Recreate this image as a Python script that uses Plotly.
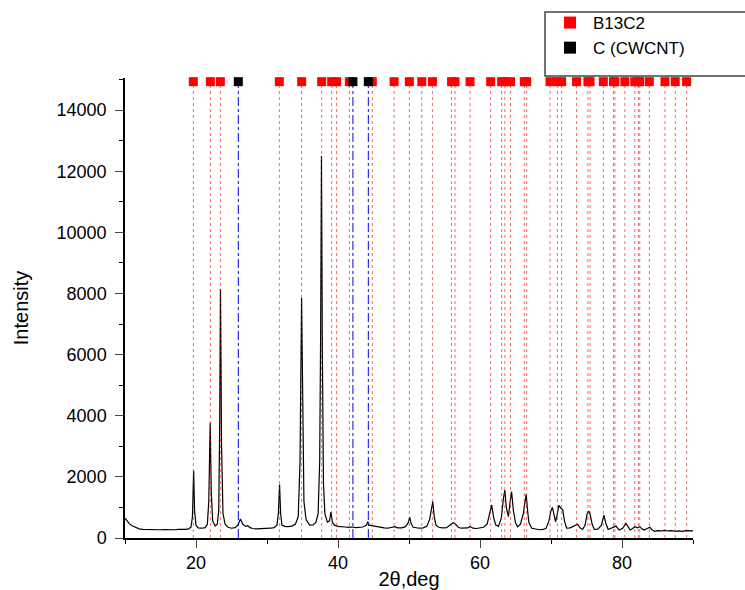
import plotly.graph_objects as go

# XRD pattern (2theta, intensity)
two_theta = [10.0, 10.3, 10.6, 11.0, 11.5, 12.0, 12.5, 13.0, 13.5, 14.0, 14.5, 15.0, 15.5, 16.0, 16.5,
             17.0, 17.5, 18.0, 18.5, 19.0, 19.3, 19.5, 19.67, 19.8, 20.0, 20.3, 20.8, 21.3, 21.6, 21.8,
             22.0, 22.15, 22.35, 22.7, 23.0, 23.2, 23.33, 23.45, 23.6, 23.8, 24.1, 24.5, 25.0, 25.5,
             25.9, 26.25, 26.6, 27.0, 27.3, 27.6, 28.0, 28.5, 29.0, 29.5, 30.0, 30.5, 31.0, 31.4, 31.6,
             31.77, 31.92, 32.1, 32.5, 33.0, 33.5, 34.0, 34.4, 34.65, 34.87, 35.02, 35.2, 35.5, 36.0,
             36.5, 36.9, 37.2, 37.42, 37.55, 37.67, 37.8, 37.95, 38.15, 38.5, 38.8, 39.0, 39.2, 39.5,
             40.0, 40.5, 41.0, 41.5, 42.0, 42.5, 43.0, 43.5, 44.0, 44.2, 44.4, 44.8, 45.2, 45.6, 46.0,
             46.5, 47.0, 47.5, 48.0, 48.4, 49.0, 49.5, 49.9, 50.1, 50.3, 50.6, 51.0, 51.5, 52.0, 52.5,
             52.9, 53.2, 53.35, 53.55, 53.8, 54.2, 54.7, 55.3, 55.8, 56.2, 56.5, 56.9, 57.3, 57.8, 58.3,
             58.6, 59.0, 59.5, 60.0, 60.5, 61.0, 61.4, 61.65, 61.9, 62.2, 62.6, 63.0, 63.3, 63.5, 63.7,
             64.0, 64.25, 64.45, 64.7, 65.0, 65.3, 65.7, 66.1, 66.3, 66.5, 66.7, 66.9, 67.3, 67.8, 68.4,
             68.9, 69.3, 69.7, 70.0, 70.2, 70.4, 70.65, 70.9, 71.1, 71.4, 71.65, 71.9, 72.2, 72.7, 73.2,
             73.75, 74.1, 74.45, 74.8, 75.1, 75.3, 75.5, 75.8, 76.1, 76.6, 77.1, 77.45, 77.7, 78.05,
             78.6, 79.15, 79.6, 80.1, 80.55, 80.9, 81.15, 81.5, 81.8, 82.2, 82.5, 82.8, 83.1, 83.5,
             83.9, 84.2, 84.6, 85.0, 85.5, 86.0, 86.5, 87.0, 87.5, 88.0, 88.5, 89.0, 89.5, 90.0]
intensity = [650, 560, 470, 400, 340, 300, 285, 280, 270, 275, 265, 270, 275, 268, 272,
             270, 280, 275, 285, 300, 360, 700, 2200, 900, 420, 330, 320, 340, 450, 1200,
             3770, 1500, 550, 400, 450, 900, 3500, 8150, 3000, 800, 450, 350, 320, 340,
             420, 620, 450, 380, 400, 340, 310, 300, 305, 300, 310, 320, 340, 420, 800,
             1750, 800, 420, 380, 370, 390, 450, 700, 2500, 7850, 3500, 1200, 600, 420,
             430, 520, 800, 2500, 6500, 12500, 6000, 1800, 800, 520, 560, 850, 520, 420,
             380, 360, 360, 350, 360, 340, 350, 360, 420, 530, 420, 400, 370, 350, 330,
             330, 320, 340, 370, 330, 330, 370, 500, 680, 470, 350, 330, 320, 330, 380,
             600, 1100, 1190, 700, 420, 350, 330, 340, 420, 500, 470, 360, 320, 330, 330,
             380, 320, 310, 330, 350, 450, 800, 1080, 700, 430, 380, 650, 1300, 1570, 1000,
             700, 1200, 1515, 900, 500, 370, 450, 800, 1190, 1430, 900, 500, 320, 290, 270,
             280, 320, 550, 900, 1000, 800, 530, 800, 1070, 970, 920, 550, 320, 330, 380,
             450, 330, 280, 420, 800, 880, 790, 450, 280, 290, 420, 750, 500, 280,
             330, 390, 260, 320, 480, 330, 260, 310, 370, 330, 370, 300, 260, 300,
             350, 280, 220, 240, 230, 250, 230, 240, 220, 230, 220, 240, 230, 235]

# Reference line positions (2theta)
b13c2_positions = [19.62, 22.02, 23.43, 31.74, 34.88, 37.7, 39.11, 39.8, 41.6, 44.83, 47.9, 50.05,
                   51.8, 53.3, 56.0, 56.48, 58.6, 61.5, 63.05, 63.5, 64.3, 66.24, 66.57, 69.86,
                   70.9, 71.5, 73.6, 75.2, 75.5, 77.37, 78.8, 79.0, 80.4, 81.8, 82.3, 82.5, 83.85,
                   86.05, 87.5, 89.1]
cwcnt_positions = [25.96, 42.1, 44.27]

series_names = ["B13C2", "C (CWCNT)"]
y_ticks = [0, 2000, 4000, 6000, 8000, 10000, 12000, 14000]
x_ticks = [20, 40, 60, 80]

MARK_Y = 14930
LINE_TOP = 14800
FONT = "Arial, Liberation Sans, sans-serif"


def vlines(pos):
    xs, ys = [], []
    for p in pos:
        xs += [p, p, None]
        ys += [0, LINE_TOP, None]
    return xs, ys


fig = go.Figure()
fig.add_trace(go.Scatter(x=two_theta, y=intensity, mode="lines",
                         line=dict(color="black", width=1.2), showlegend=False,
                         hoverinfo="skip"))
rx, ry = vlines(b13c2_positions)
fig.add_trace(go.Scatter(x=rx, y=ry, mode="lines",
                         line=dict(color="rgba(255,0,0,0.6)", width=1, dash="dot"),
                         showlegend=False, hoverinfo="skip"))
bx, by = vlines(cwcnt_positions)
fig.add_trace(go.Scatter(x=bx, y=by, mode="lines", line=dict(color="#0000ff", width=1, dash="dashdot"),
                         showlegend=False, hoverinfo="skip"))
fig.add_trace(go.Scatter(x=b13c2_positions, y=[MARK_Y] * len(b13c2_positions), mode="markers",
                         marker=dict(symbol="square", size=9, color="#ff0000", line=dict(width=0)),
                         name=series_names[0], cliponaxis=False))
fig.add_trace(go.Scatter(x=cwcnt_positions, y=[MARK_Y] * len(cwcnt_positions), mode="markers",
                         marker=dict(symbol="square", size=9, color="black", line=dict(width=0)),
                         name=series_names[1], cliponaxis=False))

L, R, T, B = 125, 52, 78, 52
W, H = 745, 590
pw, ph = W - L - R, H - T - B

fig.add_shape(type="rect", xref="paper", yref="paper",
              x0=(545 - L) / pw, x1=(760 - L) / pw,
              y0=(H - B - 76) / ph, y1=(H - B - 12) / ph,
              line=dict(color="#444444", width=1.5), fillcolor="white", layer="above")

fig.update_layout(
    width=W, height=H,
    margin=dict(l=L, r=R, t=T, b=B, autoexpand=False),
    paper_bgcolor="white", plot_bgcolor="white",
    font=dict(family=FONT, size=18, color="black"),
    showlegend=True,
    legend=dict(x=(547 - L) / pw, y=(H - B - 5) / ph, xanchor="left", yanchor="top",
                bgcolor="rgba(0,0,0,0)", borderwidth=0, font=dict(size=17, family=FONT),
                itemsizing="constant", itemwidth=36, tracegroupgap=0),
    xaxis=dict(range=[10, 90], tickvals=x_ticks, ticks="outside", ticklen=8, tickwidth=1.2,
               showline=True, linecolor="black", linewidth=1.5, showgrid=False, zeroline=False,
               automargin=False,
               minor=dict(tickvals=[10, 30, 50, 70, 90], ticks="outside", ticklen=4, tickwidth=1.2,
                          tickcolor="black"),
               tickfont=dict(size=18), title=dict(text="2θ,deg", font=dict(size=20), standoff=0)),
    yaxis=dict(range=[0, 15050], tickvals=y_ticks, tickformat="d", ticks="outside", ticklen=8,
               tickwidth=1.2, ticklabelstandoff=5,
               showline=True, linecolor="black", linewidth=1.5, showgrid=False, zeroline=False,
               automargin=False,
               minor=dict(dtick=1000, ticks="outside", ticklen=4, tickwidth=1.2, tickcolor="black"),
               tickfont=dict(size=18), title=dict(text="Intensity", font=dict(size=20), standoff=23)),
)

fig.write_html("out.html")
